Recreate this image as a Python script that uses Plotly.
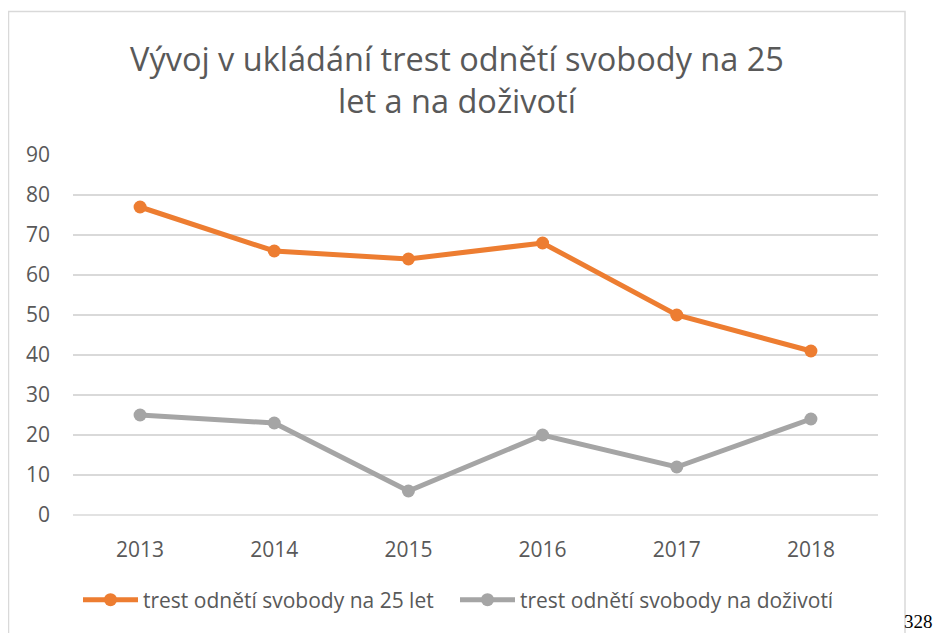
import plotly.graph_objects as go

years = ["2013", "2014", "2015", "2016", "2017", "2018"]
trest_25 = [77, 66, 64, 68, 50, 41]
trest_dozivoti = [25, 23, 6, 20, 12, 24]
y_ticks = [0, 10, 20, 30, 40, 50, 60, 70, 80, 90]

name_25 = "trest odnětí svobody na 25 let"
name_doz = "trest odnětí svobody na doživotí"
title_text = "Vývoj v ukládání trest odnětí svobody na 25<br>let a na doživotí"

OFF = 8  # page body margin
W, H = 941 - OFF, 633 - OFF
L, R, T, B = 73 - OFF, 878 - OFF, 155 - OFF, 515 - OFF
ml, mr, mt, mb = L, W - R, T, H - B
pw, ph = R - L, B - T

def px(x):
    return (x - OFF - L) / pw

def py(y):
    return (B - (y - OFF)) / ph

font = "Open Sans"
txt = "#595959"

fig = go.Figure()
fig.add_trace(go.Scatter(x=years, y=trest_25, name=name_25, mode="lines+markers",
                         line=dict(color="#ED7D31", width=5),
                         marker=dict(color="#ED7D31", size=13)))
fig.add_trace(go.Scatter(x=years, y=trest_dozivoti, name=name_doz, mode="lines+markers",
                         line=dict(color="#A5A5A5", width=5),
                         marker=dict(color="#A5A5A5", size=13)))

fig.update_layout(
    width=W, height=H,
    margin=dict(l=ml, r=mr, t=mt, b=mb, pad=0, autoexpand=False),
    paper_bgcolor="white", plot_bgcolor="white",
    font=dict(family=font, color=txt, size=20),
    showlegend=True,
    legend=dict(orientation="h", xref="container", yref="container",
                x=(78 - OFF) / W, y=(H - (600 - OFF)) / H, xanchor="left", yanchor="middle",
                font=dict(size=21, color=txt), itemwidth=55, tracegroupgap=0,
                entrywidth=307, entrywidthmode="pixels",
                bgcolor="rgba(0,0,0,0)"),
    xaxis=dict(type="category", range=[-0.5, 5.5], showgrid=False, zeroline=False,
               showline=False, ticks="", ticklabelstandoff=20,
               tickfont=dict(size=21, color=txt), fixedrange=True),
    yaxis=dict(range=[0, 90], tickvals=y_ticks, showgrid=True, gridcolor="#D9D9D9",
               gridwidth=1.5, zeroline=False, showline=False, ticks="",
               ticklabelstandoff=22, tickfont=dict(size=21, color=txt), fixedrange=True),
    shapes=[
        dict(type="line", xref="paper", yref="paper", x0=0, x1=1, y0=0, y1=0,
             line=dict(color="#D9D9D9", width=1.5), layer="below"),
        dict(type="rect", xref="paper", yref="paper",
             x0=px(8.5), x1=px(905), y0=py(650), y1=py(11.5),
             line=dict(color="#D9D9D9", width=1.5), fillcolor="rgba(0,0,0,0)", layer="below"),
    ],
    annotations=[
        dict(text=title_text, xref="paper", yref="paper", x=px(457), y=py(79),
             xanchor="center", yanchor="middle", showarrow=False,
             font=dict(family=font, size=32.5, color=txt), align="center"),
        dict(text="328", xref="paper", yref="paper", x=px(903), y=py(621),
             xanchor="left", yanchor="middle", showarrow=False, borderpad=0,
             font=dict(family="Liberation Serif", size=19, color="#000000")),
    ],
)

fig.write_html("out.html")
